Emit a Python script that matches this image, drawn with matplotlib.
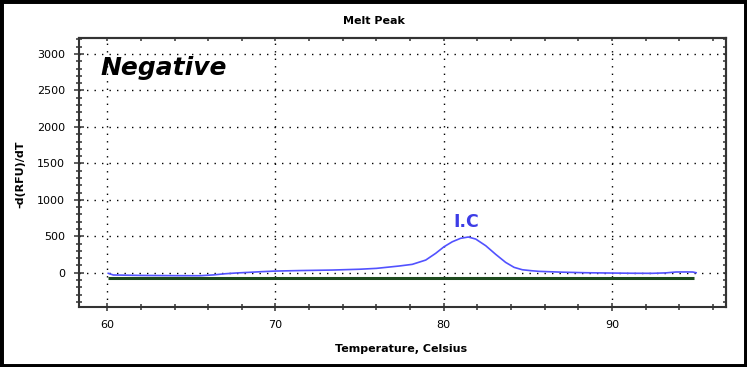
import numpy as np
import matplotlib.pyplot as plt
from matplotlib.patches import Rectangle
from matplotlib.ticker import MultipleLocator

# curva di melt (blu)
temp = [60.06, 60.36, 62.0, 64.0, 65.5, 66.3, 67.0, 67.7, 68.4, 69.2, 70.0,
        71.5, 73.4, 75.0, 76.0, 77.34, 78.13, 78.93, 79.52, 80.02, 80.51,
        81.0, 81.46, 81.9, 82.5, 83.09, 83.68, 84.18, 84.67, 85.2, 85.66,
        87.0, 88.4, 89.9, 91.2, 92.4, 93.2, 93.8, 94.4, 94.8, 95.0]
dfdt = [-8, -31, -37, -40, -41, -30, -14, -3, 5, 15, 23,
        30, 37, 48, 60, 92, 115, 174, 266, 357, 425,
        472, 490, 462, 370, 252, 142, 74, 41, 28, 19,
        8, 0, -4, -7, -8, -2, 10, 11, 10, 0]

# soglia (verde)
temp_soglia = [60.06, 94.9]
soglia = [-68, -68]

ic_pos = (80.6, 630)

blu = '#5252ff'
verde = '#1d4a1d'
scuro = '#333333'

fig = plt.figure(figsize=(7.47, 3.67), dpi=100)
ax = fig.add_axes([79 / 747, 60 / 367, 646.7 / 747, 269 / 367])

ax.plot(temp, dfdt, color=blu, lw=1.2, zorder=3, solid_joinstyle='round')
ax.plot(temp_soglia, soglia, color=verde, lw=2.2, zorder=2, solid_capstyle='butt')

ax.set_xlim(58.32, 96.76)
ax.set_ylim(-470, 3220)

ax.xaxis.set_major_locator(MultipleLocator(10))
ax.xaxis.set_minor_locator(MultipleLocator(2))
ax.yaxis.set_major_locator(MultipleLocator(500))
ax.yaxis.set_minor_locator(MultipleLocator(100))

ax.grid(True, which='major', color='black', lw=1.0, linestyle=(0, (1, 4.4)))

ax.tick_params(axis='x', which='major', direction='inout', length=5.5, width=1.1,
               color=scuro, pad=6.3, labelsize=8)
ax.tick_params(axis='x', which='minor', direction='inout', length=4.5, width=1.1, color=scuro)
ax.tick_params(axis='y', which='major', direction='inout', length=6.5, width=1.1,
               color=scuro, pad=6.7, labelsize=8)
ax.tick_params(axis='y', which='minor', direction='inout', length=4.5, width=1.1, color=scuro)

# tacche interne sopra e a destra
top = ax.secondary_xaxis('top')
top.xaxis.set_major_locator(MultipleLocator(2))
top.tick_params(which='both', direction='in', length=2.5, width=1.1, color=scuro,
                labeltop=False, labelbottom=False)
dx = ax.secondary_yaxis('right')
dx.yaxis.set_major_locator(MultipleLocator(100))
dx.tick_params(which='both', direction='in', length=2.5, width=1.1, color=scuro,
               labelright=False, labelleft=False)

for a in (ax, top, dx):
    for s in a.spines.values():
        s.set_color(scuro)
        s.set_linewidth(1.5)

ax.text(21 / 646.7, 232 / 269, 'Negative', transform=ax.transAxes, fontsize=18,
        fontweight='bold', fontstyle='italic', va='baseline', ha='left')
ax.text(ic_pos[0], ic_pos[1], 'I.C', color='#3c3ce6', fontsize=12.5,
        fontweight='bold', va='baseline', ha='left')

fig.text(0.5, 1 - 21.5 / 367, 'Melt Peak', fontsize=8, fontweight='bold',
         ha='center', va='center')
fig.text(401 / 747, 1 - 349 / 367, 'Temperature, Celsius', fontsize=8,
         fontweight='bold', ha='center', va='center')
fig.text(20 / 747, 1 - 174 / 367, '-d(RFU)/dT', fontsize=8, fontweight='bold',
         rotation=90, ha='center', va='center')

# cornice nera esterna
fig.patches.append(Rectangle((0, 0), 1, 1, transform=fig.transFigure, fill=False,
                             lw=5, ec='black'))

fig.savefig('out.png', dpi=100)
